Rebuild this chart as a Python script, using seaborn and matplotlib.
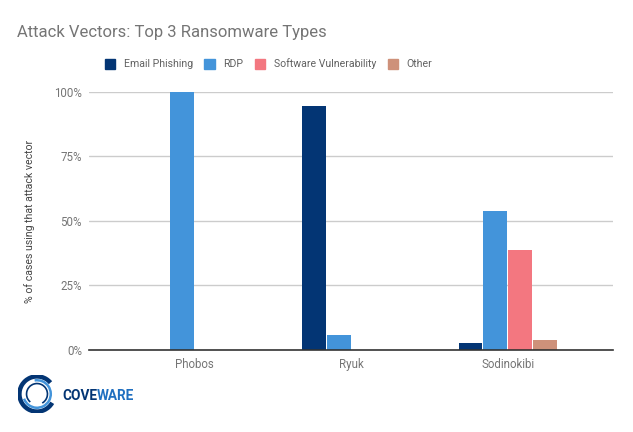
import matplotlib
matplotlib.use("Agg")
import matplotlib.pyplot as plt
from matplotlib.patches import Arc
import pandas as pd
import seaborn as sns

# data
families = ["Phobos", "Ryuk", "Sodinokibi"]
vectors = ["Email Phishing", "RDP", "Software Vulnerability", "Other"]
email_phishing = [0.0, 0.944, 0.026]
rdp = [1.0, 0.056, 0.539]
software_vuln = [0.0, 0.0, 0.388]
other = [0.0, 0.0, 0.039]
yticks = [0, 0.25, 0.5, 0.75, 1.0]
ytick_labels = ["0%", "25%", "50%", "75%", "100%"]

colors = ["#033574", "#4394DA", "#F37780", "#CE917A"]

rows = []
for vec, vals in zip(vectors, [email_phishing, rdp, software_vuln, other]):
    for fam, v in zip(families, vals):
        rows.append({"family": fam, "vector": vec, "share": v})
df = pd.DataFrame(rows)

sns.set_style("white")
plt.rcParams["font.family"] = ["Roboto", "DejaVu Sans"]

fig = plt.figure(figsize=(6.33, 4.32), dpi=100)
ax = fig.add_axes([0.1406, 0.19, 0.8278, 0.597])

sns.barplot(data=df, x="family", y="share", hue="vector", order=families,
            hue_order=vectors, palette=colors, width=0.635, gap=0.04,
            linewidth=0, saturation=1, ax=ax, legend=False)

ax.set_xlim(-0.67, 2.67)
ax.set_ylim(0, 1.0)
ax.set_yticks(yticks)
ax.set_yticklabels(ytick_labels)
ax.yaxis.grid(True, color="#cccccc", linewidth=1)
ax.set_axisbelow(True)
for s in ["top", "right", "left"]:
    ax.spines[s].set_visible(False)
ax.spines["bottom"].set_color("#333333")
ax.spines["bottom"].set_linewidth(1.2)
ax.tick_params(axis="both", length=0, labelsize=8.3, labelcolor="#757575")
ax.tick_params(axis="y", pad=5)
ax.tick_params(axis="x", pad=6)
ax.set_xlabel("")
ax.set_ylabel("% of cases using that attack vector", fontsize=7.6, color="#444444", labelpad=14)

fig.text(17 / 633, 1 - 32 / 432, "Attack Vectors: Top 3 Ransomware Types",
         fontsize=12, color="#757575", va="center", ha="left")

handles = [plt.Rectangle((0, 0), 1, 1, color=c) for c in colors]
fig.legend(handles, vectors, loc="center left", bbox_to_anchor=(95 / 633, 1 - 64 / 432),
           ncol=4, frameon=False, fontsize=7.6, handlelength=1.0, handleheight=1.0,
           handletextpad=0.8, columnspacing=1.1, labelcolor="#616161")

# coveware logo
lax = fig.add_axes([18 / 633, 1 - 413 / 432, 38 / 633, 38 / 432])
lax.set_aspect("equal")
lax.set_xlim(-1, 1)
lax.set_ylim(-1, 1)
lax.axis("off")
lax.add_patch(Arc((0, 0), 1.85, 1.85, theta1=40, theta2=330, color="#033574", lw=3.2))
lax.add_patch(Arc((0, 0), 1.45, 1.45, theta1=200, theta2=100, color="#4394DA", lw=1.8))
lax.add_patch(Arc((0, 0), 1.1, 1.1, theta1=300, theta2=230, color="#033574", lw=1.2))
cove = fig.text(62 / 633, 1 - 396 / 432, "COVE", fontsize=9.8, fontweight="bold",
                color="#033574", va="center", ha="left")
fig.canvas.draw()
bb = cove.get_window_extent(renderer=fig.canvas.get_renderer())
fig.text(bb.x1 / fig.bbox.width, 1 - 396 / 432, "WARE", fontsize=9.8, fontweight="bold",
         color="#1F6FC0", va="center", ha="left")

fig.savefig("out.png", dpi=100)
